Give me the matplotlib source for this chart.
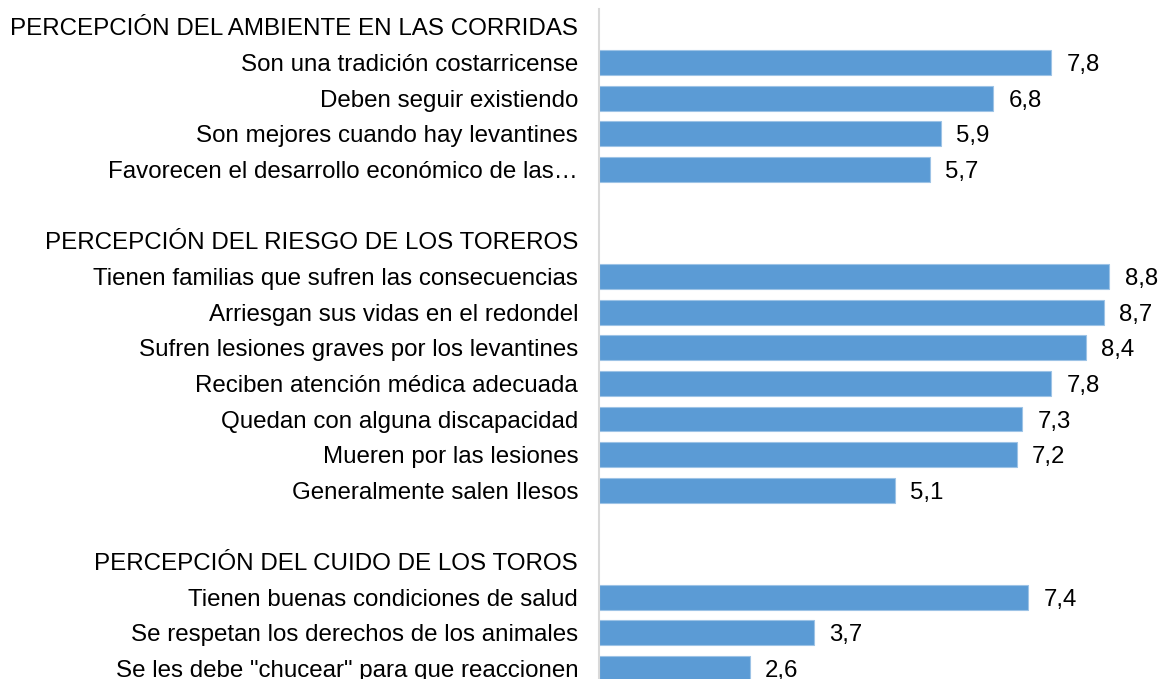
import numpy as np
import matplotlib.pyplot as plt

plt.rcParams['font.family'] = ['Liberation Sans', 'DejaVu Sans']

# rows top to bottom; None = header/blank row without a bar
labels = [
    "PERCEPCIÓN DEL AMBIENTE EN LAS CORRIDAS",
    "Son una tradición costarricense",
    "Deben seguir existiendo",
    "Son mejores cuando hay levantines",
    "Favorecen el desarrollo económico de las…",
    "",
    "PERCEPCIÓN DEL RIESGO DE LOS TOREROS",
    "Tienen familias que sufren las consecuencias",
    "Arriesgan sus vidas en el redondel",
    "Sufren lesiones graves por los levantines",
    "Reciben atención médica adecuada",
    "Quedan con alguna discapacidad",
    "Mueren por las lesiones",
    "Generalmente salen Ilesos",
    "",
    "PERCEPCIÓN DEL CUIDO DE LOS TOROS",
    "Tienen buenas condiciones de salud",
    "Se respetan los derechos de los animales",
    "Se les debe \"chucear\" para que reaccionen",
]
values = [None, 7.8, 6.8, 5.9, 5.7,
          None,
          None, 8.8, 8.7, 8.4, 7.8, 7.3, 7.2, 5.1,
          None,
          None, 7.4, 3.7, 2.6]

W, H = 1163, 679
fig = plt.figure(figsize=(W / 100, H / 100), dpi=100)
left = 599 / W
top = 9 / H
ax = fig.add_axes([left, 0, 1 - left, 1 - top])

y = np.arange(len(labels))
for yi, v in zip(y, values):
    if v is None:
        continue
    ax.barh(yi, v, height=0.7, color='#5B9BD5', edgecolor='#9DC3E6', linewidth=0.8)
    ax.annotate(f"{v:.1f}".replace('.', ','), (v, yi), xytext=(11, 0),
                textcoords='offset points', va='center_baseline', ha='left',
                fontsize=17.3)

ax.set_yticks(y)
ax.set_yticklabels(labels, fontsize=17.4)
ax.tick_params(axis='y', length=0, pad=15)
ax.set_xticks([])
ax.set_xlim(0, (W - 599) / 58.0)
ax.set_ylim((H - 26.9) / 35.65, -0.5)

for s in ['top', 'right', 'bottom']:
    ax.spines[s].set_visible(False)
ax.spines['left'].set_color('#D9D9D9')
ax.spines['left'].set_linewidth(1.5)

fig.savefig('out.png', dpi=100)
